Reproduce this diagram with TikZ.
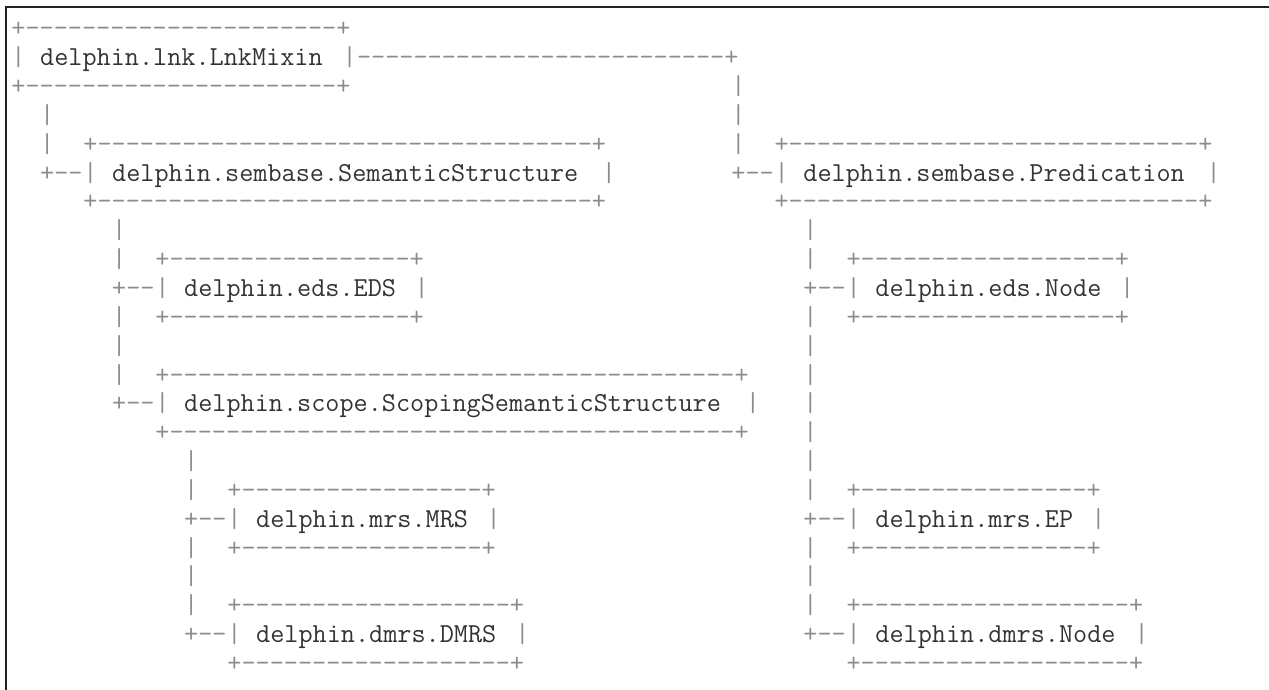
\documentclass[tikz,border=0pt]{standalone}
\usepackage{fontspec}
\setmonofont{Latin Modern Mono}
\definecolor{artgray}{HTML}{8C8C8C}
\definecolor{namegray}{HTML}{333333}
\definecolor{framecol}{HTML}{222222}

\begin{document}
\begin{tikzpicture}[
  x=7.2pt,y=-14.425pt,
  art/.style={anchor=base west,inner sep=0pt,text=artgray,
    font=\ttfamily\fontsize{13.714pt}{14.4pt}\selectfont},
  cls/.style={art,text=namegray},
  frame/.style={draw=framecol,line width=0.8pt}]
  \useasboundingbox (-5.5pt,18.4pt) rectangle (629pt,-326.6pt);
  \draw[frame] (629pt,14.9pt) -- (-2.5pt,14.9pt) -- (-2.5pt,-326.6pt);

  % box edges: row/col/width
  \foreach \r/\c/\w [count=\i] in {
    0/0/24, 2/0/24,
    4/5/37, 6/5/37, 4/53/31, 6/53/31,
    8/10/19, 10/10/19, 8/58/20, 10/58/20,
    12/10/42, 14/10/42,
    16/15/19, 18/15/19, 16/58/18, 18/58/18,
    20/15/21, 22/15/21, 20/58/21, 22/58/21}
    \node[art] (edge\i) at (\c,\r) {+\foreach \k in {3,...,\w}{-}+};

  % class names with their side bars
  \foreach \r/\c/\w/\nm/\txt in {
    1/0/24/lnkmixin/delphin.lnk.LnkMixin,
    5/5/37/semstruct/delphin.sembase.SemanticStructure,
    5/53/31/predication/delphin.sembase.Predication,
    9/10/19/eds/delphin.eds.EDS,
    9/58/20/edsnode/delphin.eds.Node,
    13/10/42/scoping/delphin.scope.ScopingSemanticStructure,
    17/15/19/mrs/delphin.mrs.MRS,
    17/58/18/ep/delphin.mrs.EP,
    21/15/21/dmrs/delphin.dmrs.DMRS,
    21/58/21/dmrsnode/delphin.dmrs.Node}
  {
    \node[art] (\nm-l) at (\c,\r) {|};
    \node[cls] (\nm) at (\c+2,\r) {\txt};
    \node[art] (\nm-r) at (\c+\w-1,\r) {|};
  }

  % branches into the boxes
  \foreach \r/\c [count=\i] in {5/2,5/50,9/7,9/55,13/7,17/12,17/55,21/12,21/55}
    \node[art] (tee\i) at (\c,\r) {+--};
  \node[art] (lnkrun) at (24,1) {\foreach \k in {1,...,26}{-}+};

  % vertical runs
  \foreach \c/\rows in {2/{3,4}, 50/{2,3,4}, 7/{7,8,10,11,12},
    55/{7,8,10,11,12,13,14,15,16,18,19,20}, 12/{15,16,18,19,20}}
    \foreach \r in \rows
      \node[art] (bar\c-\r) at (\c,\r) {|};
\end{tikzpicture}
\end{document}
